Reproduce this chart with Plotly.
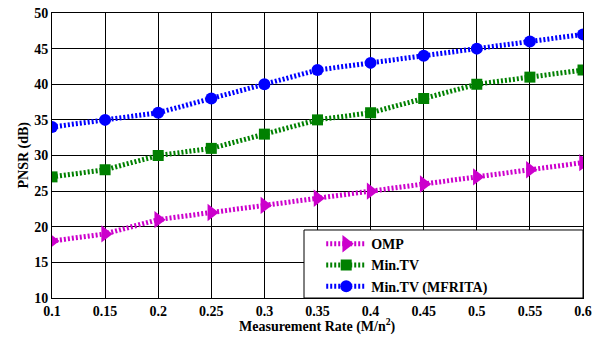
import plotly.graph_objects as go

rates = [0.1, 0.15, 0.2, 0.25, 0.3, 0.35, 0.4, 0.45, 0.5, 0.55, 0.6]
omp = [18, 19, 21, 22, 23, 24, 25, 26, 27, 28, 29]
mintv = [27, 28, 30, 31, 33, 35, 36, 38, 40, 41, 42]
mfrita = [34, 35, 36, 38, 40, 42, 43, 44, 45, 46, 47]
xticks = [0.1, 0.15, 0.2, 0.25, 0.3, 0.35, 0.4, 0.45, 0.5, 0.55, 0.6]
xticklabels = ["0.1", "0.15", "0.2", "0.25", "0.3", "0.35", "0.4", "0.45", "0.5", "0.55", "0.6"]
yticks = [10, 15, 20, 25, 30, 35, 40, 45, 50]

FONT = "Liberation Serif"

fig = go.Figure()
series = [
    ("OMP", omp, "#CC00CC", "triangle-right", 15),
    ("Min.TV", mintv, "#008000", "square", 11),
    ("Min.TV (MFRITA)", mfrita, "#0000FF", "circle", 12),
]
for name, ys, col, sym, sz in series:
    fig.add_trace(go.Scatter(
        x=rates, y=ys, name=name, mode="lines+markers",
        line=dict(color=col, width=5, dash="2px,2px"),
        marker=dict(symbol=sym, size=sz, color=col, line=dict(width=0)),
    ))

axis_common = dict(
    showline=True, linecolor="black", linewidth=1, mirror="ticks",
    ticks="inside", ticklen=3, tickcolor="black",
    showgrid=True, gridcolor="black", gridwidth=1, zeroline=False,
    automargin=False,
    tickfont=dict(family=FONT, size=14, color="black", weight="bold"),
)

fig.update_xaxes(range=[0.1, 0.6], tickvals=xticks, ticktext=xticklabels, **axis_common)
fig.update_yaxes(range=[10, 50], tickvals=yticks, **axis_common)

title_font = dict(family=FONT, size=14, color="black", weight="bold")
fig.add_annotation(text="Measurement Rate (M/n<sup>2</sup>)", xref="paper", yref="paper",
                   x=0.5, y=-0.095, xanchor="center", yanchor="middle", showarrow=False,
                   font=title_font)
fig.add_annotation(text="PNSR (dB)", xref="paper", yref="paper",
                   x=-0.0546, y=0.5, xanchor="center", yanchor="middle", showarrow=False,
                   textangle=-90, font=title_font)

fig.add_shape(type="rect", xref="paper", yref="paper",
              x0=0.4746, x1=1.0, y0=0.0, y1=0.2386,
              fillcolor="white", line=dict(color="black", width=1), layer="above")

fig.update_layout(
    width=601, height=339,
    margin=dict(l=52, r=18, t=13, b=41),
    plot_bgcolor="white", paper_bgcolor="white",
    showlegend=True,
    legend=dict(x=0.507, y=0.245, xanchor="left", yanchor="top",
                bgcolor="rgba(0,0,0,0)", borderwidth=0,
                font=dict(family=FONT, size=14, color="black", weight="bold"),
                itemwidth=40, tracegroupgap=0),
)

fig.write_html("out.html")
